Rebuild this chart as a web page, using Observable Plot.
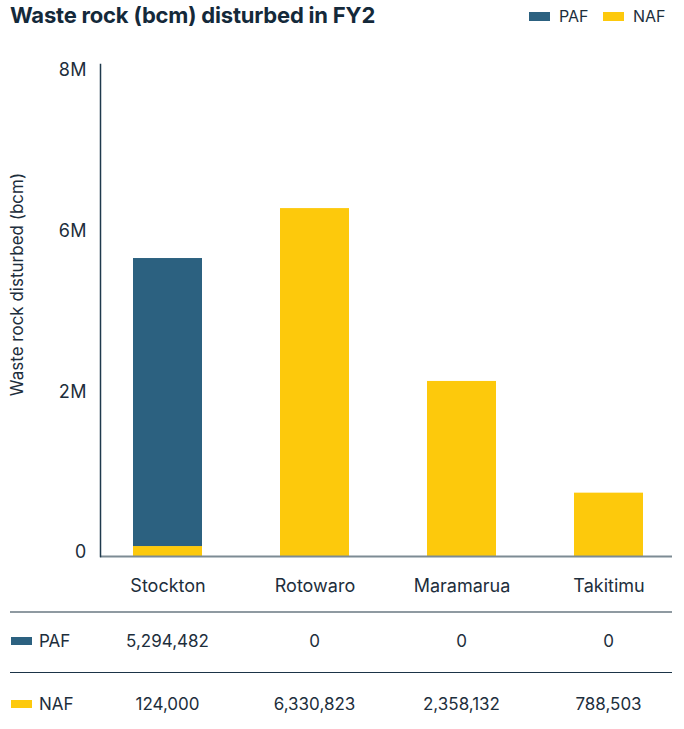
<!DOCTYPE html>
<html>
<head>
<meta charset="utf-8">
<script src="https://cdn.jsdelivr.net/npm/d3@7"></script>
<script src="https://cdn.jsdelivr.net/npm/@observablehq/plot@0.6"></script>
<style>
  body { margin: 0; background: #fff; font-family: Inter, "Noto Sans", sans-serif; color: #1d2e3c; }
  #wrap { position: relative; width: 684px; height: 729px; }
  #header { position: relative; height: 40px; }
  #title { position: absolute; left: 10px; top: 2px; font-size: 22px; font-weight: 700; color: #14293a; letter-spacing: -0.2px; }
  .leg-sw { position: absolute; width: 21px; height: 9px; top: 12px; }
  .leg-tx { position: absolute; top: 6px; font-size: 16px; color: #1d2e3c; }
  #table { position: relative; height: 129px; }
  .cell { position: absolute; transform: translate(-50%, -50%); font-size: 17px; color: #1d2e3c; white-space: nowrap; }
  .rowlab { position: absolute; transform: translateY(-50%); font-size: 17px; left: 39px; }
  .rowsw { position: absolute; left: 11px; width: 21px; height: 8px; }
  .hline { position: absolute; left: 10px; width: 662px; }
</style>
</head>
<body>
<div id="wrap">
  <div id="header"><div id="title"></div></div>
  <div id="chart"></div>
  <div id="table"></div>
</div>
<script>
const titleText = "Waste rock (bcm) disturbed in FY2";
const yAxisLabel = "Waste rock disturbed (bcm)";
const categories = ["Stockton", "Rotowaro", "Maramarua", "Takitimu"];
const seriesNames = ["PAF", "NAF"];
const seriesColors = ["#2c6180", "#fdc90c"];
const pafValues = [5294482, 0, 0, 0];
const nafValues = [124000, 6330823, 2358132, 788503];
const yTicks = [0, 2000000, 6000000, 8000000];
const yTickLabels = ["0", "2M", "6M", "8M"];

const rows = [];
categories.forEach((c, i) => {
  rows.push({category: c, series: "NAF", value: nafValues[i]});
  rows.push({category: c, series: "PAF", value: pafValues[i]});
});

document.getElementById("title").textContent = titleText;

// legend
const header = document.getElementById("header");
const legPos = [[529, 559], [603, 633]];
seriesNames.forEach((s, i) => {
  const sw = document.createElement("div");
  sw.className = "leg-sw";
  sw.style.left = legPos[i][0] + "px";
  sw.style.background = seriesColors[i];
  header.appendChild(sw);
  const tx = document.createElement("div");
  tx.className = "leg-tx";
  tx.style.left = legPos[i][1] + "px";
  tx.textContent = s;
  header.appendChild(tx);
});

// the axis of the reference places its ticks evenly: a piecewise scale
const piecewise = d3.scaleLinear().domain(yTicks).range(yTicks.map((d, i) => i));
const tickLabel = (d) => {
  const k = yTicks.indexOf(d);
  return k >= 0 ? yTickLabels[k] : yTickLabels[Math.round(d)];
};

const chart = Plot.plot({
  width: 684,
  height: 560,
  marginLeft: 100,
  marginRight: 12,
  marginTop: 24,
  marginBottom: 44,
  style: {fontFamily: "Inter, 'Noto Sans', sans-serif", color: "#1d2e3c", background: "#fff"},
  x: {domain: categories, paddingInner: 0.53, paddingOuter: 0.21, align: 0.53, label: null},
  y: {transform: piecewise, domain: [0, yTicks.length - 1], range: [516, 34], label: null},
  color: {domain: seriesNames, range: seriesColors},
  marks: [
    Plot.barY(rows, Plot.stackY({x: "category", y: "value", fill: "series", order: ["NAF", "PAF"]})),
    Plot.ruleY([0], {stroke: "#7d8b94", strokeWidth: 2}),
    Plot.frame({anchor: "left", stroke: "#1f3a4d", strokeWidth: 1.5}),
    Plot.axisY(yTicks, {tickFormat: tickLabel, tickSize: 0, tickPadding: 14, fontSize: 18, dy: -4, label: null}),
    Plot.axisX({tickSize: 0, tickPadding: 23, fontSize: 18, label: null}),
    Plot.text([yAxisLabel], {frameAnchor: "left", textAnchor: "middle", rotate: -90, dx: -83, dy: -26, fontSize: 17, fill: "#1d2e3c"})
  ]
});
document.getElementById("chart").appendChild(chart);

// table
const table = document.getElementById("table");
const xs = chart.scale("x");
const centers = categories.map(c => xs.apply(c) + xs.bandwidth / 2);
function hline(top, color, h) {
  const l = document.createElement("div");
  l.className = "hline";
  l.style.top = top + "px";
  l.style.height = h + "px";
  l.style.background = color;
  table.appendChild(l);
}
hline(11, "#8f9aa1", 2);
hline(71.5, "#1b3447", 1.5);
const rowDefs = [
  {name: seriesNames[0], color: seriesColors[0], values: pafValues, cy: 41},
  {name: seriesNames[1], color: seriesColors[1], values: nafValues, cy: 104}
];
const fmt = d3.format(",");
rowDefs.forEach(r => {
  const sw = document.createElement("div");
  sw.className = "rowsw";
  sw.style.top = (r.cy - 4) + "px";
  sw.style.background = r.color;
  table.appendChild(sw);
  const lab = document.createElement("div");
  lab.className = "rowlab";
  lab.style.top = r.cy + "px";
  lab.textContent = r.name;
  table.appendChild(lab);
  r.values.forEach((v, i) => {
    const c = document.createElement("div");
    c.className = "cell";
    c.style.left = centers[i] + "px";
    c.style.top = r.cy + "px";
    c.textContent = fmt(v);
    table.appendChild(c);
  });
});
</script>
</body>
</html>
